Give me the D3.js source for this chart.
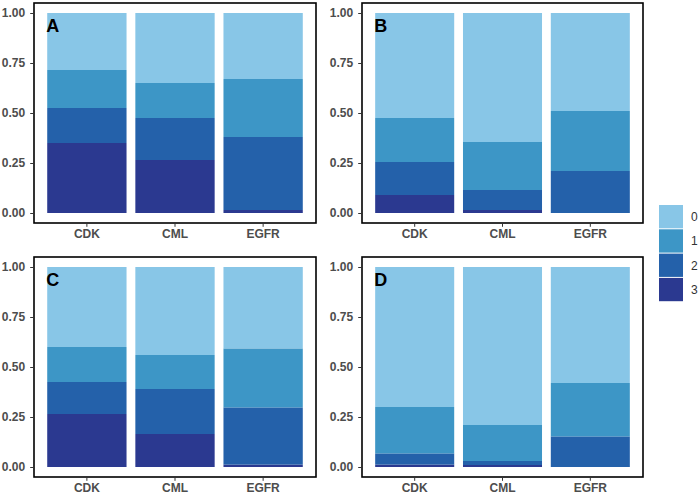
<!DOCTYPE html>
<html>
<head>
<meta charset="utf-8">
<script src="https://cdn.jsdelivr.net/npm/d3@7"></script>
<style>
  body { margin: 0; background: #fff; }
  svg { font-family: "Liberation Sans", Arial, sans-serif; }
</style>
</head>
<body>
<svg width="700" height="495"></svg>
<script>
// DATA
const categories = ["CDK", "CML", "EGFR"]
const levels = ["0", "1", "2", "3"]
const yTicks = [0, 0.25, 0.5, 0.75, 1]

// proportions per level, in order CDK, CML, EGFR
const panelA = { "0": [0.285, 0.35, 0.33], "1": [0.19, 0.175, 0.29], "2": [0.175, 0.21, 0.365], "3": [0.35, 0.265, 0.015] }
const panelB = { "0": [0.525, 0.645, 0.49], "1": [0.22, 0.24, 0.30], "2": [0.165, 0.10, 0.21], "3": [0.09, 0.015, 0] }
const panelC = { "0": [0.40, 0.44, 0.407], "1": [0.175, 0.17, 0.295], "2": [0.16, 0.225, 0.286], "3": [0.265, 0.165, 0.012] }
const panelD = { "0": [0.70, 0.79, 0.58], "1": [0.232, 0.18, 0.267], "2": [0.056, 0.02, 0.153], "3": [0.012, 0.01, 0] }

const colors = { "0": "#88c6e7", "1": "#3d96c6", "2": "#2461aa", "3": "#2b3990" }

// SETUP
const svg = d3.select("svg")

const panels = [
  { label: "A", data: panelA, x0: 34, x1: 316, y0: 3, y1: 223 },
  { label: "B", data: panelB, x0: 362, x1: 643, y0: 3, y1: 223 },
  { label: "C", data: panelC, x0: 34, x1: 316, y0: 257, y1: 477 },
  { label: "D", data: panelD, x0: 362, x1: 643, y0: 257, y1: 477 }
]

const stack = d3.stack().keys(["3", "2", "1", "0"])

panels.forEach((p) => {
  const rows = categories.map((c, i) => {
    const row = { cat: c }
    levels.forEach((l) => { row[l] = p.data[l][i] })
    return row
  })

  const scaleX = d3.scaleBand()
    .domain(categories)
    .range([p.x0, p.x1])
    .paddingInner(0.1)
    .paddingOuter(0.15)

  const scaleY = d3.scaleLinear()
    .domain([-0.05, 1.05])
    .range([p.y1, p.y0])

  const g = svg.append("g")

  g.selectAll("g.layer")
    .data(stack(rows))
    .enter()
    .append("g")
    .attr("class", "layer")
    .attr("fill", (d) => colors[d.key])
    .selectAll("rect")
    .data((d) => d)
    .enter()
    .append("rect")
    .attr("x", (d) => scaleX(d.data.cat))
    .attr("width", scaleX.bandwidth())
    .attr("y", (d) => scaleY(d[1]))
    .attr("height", (d) => scaleY(d[0]) - scaleY(d[1]))

  g.append("rect")
    .attr("x", p.x0)
    .attr("y", p.y0)
    .attr("width", p.x1 - p.x0)
    .attr("height", p.y1 - p.y0)
    .attr("fill", "none")
    .attr("stroke", "#000")
    .attr("stroke-width", 1.6)

  g.append("text")
    .attr("x", scaleX("CDK") - 1)
    .attr("y", p.y0 + 29)
    .attr("font-size", 18)
    .attr("font-weight", "bold")
    .attr("fill", "#000")
    .text(p.label)

  const axisY = d3.axisLeft(scaleY)
    .tickValues(yTicks)
    .tickFormat(d3.format(".2f"))
    .tickSize(3)
    .tickPadding(5)

  const ay = g.append("g")
    .attr("transform", `translate(${p.x0 - 0.8}, 0)`)
    .call(axisY)

  const axisX = d3.axisBottom(scaleX)
    .tickSize(3)
    .tickPadding(3)

  const ax = g.append("g")
    .attr("transform", `translate(0, ${p.y1 + 0.8})`)
    .call(axisX)

  ;[ay, ax].forEach((a) => {
    a.select(".domain").remove()
    a.selectAll(".tick line").attr("stroke", "#333")
    a.selectAll(".tick text")
      .attr("fill", "#4d4d4d")
      .attr("font-size", 12)
      .attr("font-weight", "bold")
      .attr("font-family", "Liberation Sans, Arial, sans-serif")
  })
})

// LEGEND
const legend = svg.append("g")
  .attr("transform", "translate(659, 205)")

const keys = legend.selectAll("g.key")
  .data(levels)
  .enter()
  .append("g")
  .attr("class", "key")
  .attr("transform", (d, i) => `translate(0, ${i * 24.3})`)

keys.append("rect")
  .attr("width", 24)
  .attr("height", 23.3)
  .attr("fill", (d) => colors[d])

keys.append("text")
  .attr("x", 32)
  .attr("y", 16)
  .attr("font-size", 12)
  .attr("fill", "#333")
  .text((d) => d)
</script>
</body>
</html>
